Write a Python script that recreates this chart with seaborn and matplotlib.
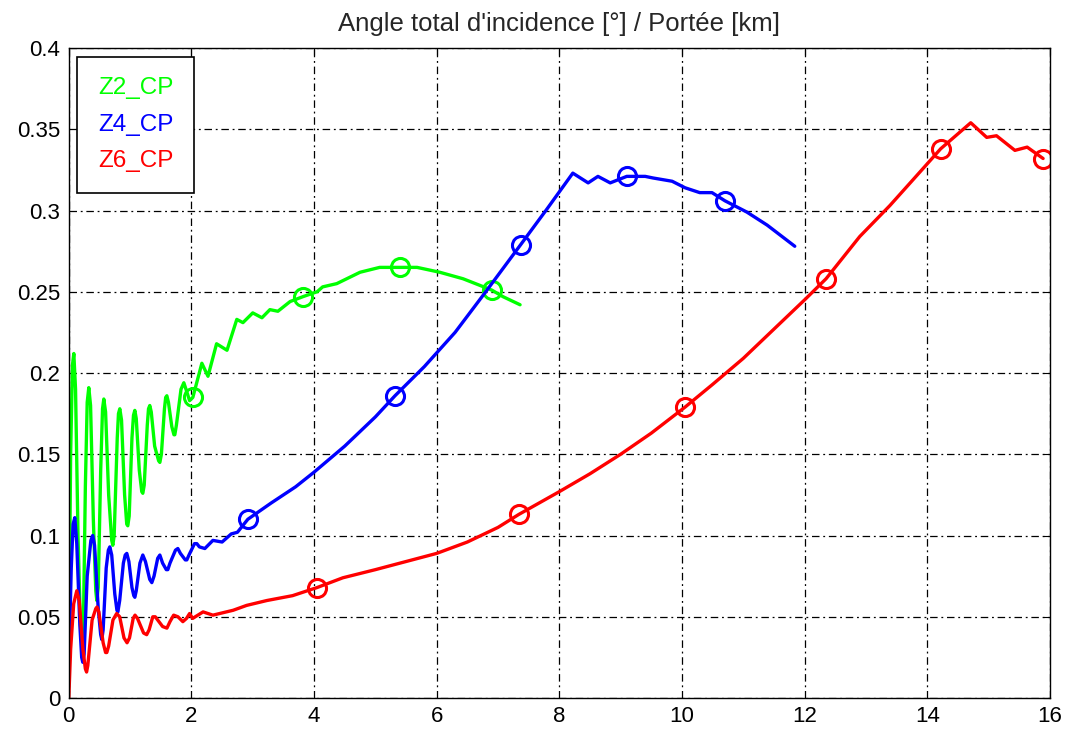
import numpy as np
import pandas as pd
import matplotlib
matplotlib.use('Agg')
import matplotlib.pyplot as plt
from matplotlib.ticker import FuncFormatter
import seaborn as sns

sns.set_style('white')
plt.rcParams['font.family'] = ['Liberation Sans', 'DejaVu Sans']

# Courbes : portée [km] / angle [°]
z2_x = [0.0, 0.03, 0.06, 0.082, 0.11, 0.15, 0.19, 0.212, 0.24, 0.27, 0.30, 0.326,
        0.355, 0.40, 0.44, 0.457, 0.48, 0.52, 0.55, 0.571, 0.60, 0.65, 0.70, 0.718,
        0.74, 0.79, 0.81, 0.832, 0.86, 0.91, 0.945, 0.962, 0.985, 1.03, 1.055, 1.077,
        1.10, 1.15, 1.19, 1.207, 1.23, 1.28, 1.30, 1.321, 1.345, 1.40, 1.465, 1.485,
        1.51, 1.56, 1.58, 1.599, 1.625, 1.68, 1.715, 1.729, 1.755, 1.83, 1.876, 1.92,
        1.97, 2.023, 2.17, 2.27, 2.41, 2.58, 2.74, 2.84, 3.00, 3.15, 3.28, 3.41, 3.61,
        3.82, 4.05, 4.14, 4.37, 4.75, 5.07, 5.40, 5.68, 6.05, 6.43, 6.70, 6.90, 7.08,
        7.36]
z2_y = [0.02, 0.15, 0.205, 0.212, 0.19, 0.10, 0.045, 0.036, 0.05, 0.13, 0.182, 0.191,
        0.18, 0.11, 0.066, 0.060, 0.068, 0.14, 0.178, 0.184, 0.176, 0.125, 0.097, 0.094,
        0.100, 0.160, 0.175, 0.178, 0.171, 0.125, 0.107, 0.106, 0.112, 0.160, 0.174, 0.177,
        0.172, 0.140, 0.127, 0.126, 0.131, 0.168, 0.178, 0.180, 0.176, 0.155, 0.146, 0.145,
        0.150, 0.178, 0.185, 0.186, 0.182, 0.167, 0.162, 0.162, 0.168, 0.190, 0.194, 0.189,
        0.183, 0.185, 0.206, 0.198, 0.218, 0.214, 0.233, 0.231, 0.237, 0.234, 0.239, 0.238,
        0.244, 0.247, 0.250, 0.253, 0.255, 0.262, 0.265, 0.265, 0.265, 0.262, 0.258, 0.254,
        0.251, 0.247, 0.242]

z4_x = [0.0, 0.04, 0.07, 0.098, 0.13, 0.18, 0.21, 0.228, 0.25, 0.30, 0.36, 0.39, 0.42,
        0.48, 0.52, 0.538, 0.56, 0.61, 0.645, 0.669, 0.70, 0.75, 0.785, 0.80, 0.83, 0.89,
        0.92, 0.946, 0.98, 1.03, 1.06, 1.077, 1.10, 1.16, 1.207, 1.25, 1.32, 1.354, 1.39,
        1.45, 1.485, 1.53, 1.59, 1.615, 1.65, 1.74, 1.778, 1.82, 1.90, 1.925, 1.96, 2.05,
        2.088, 2.13, 2.219, 2.35, 2.5, 2.65, 2.75, 2.92, 3.3, 3.7, 4.0, 4.5, 5.0, 5.32,
        5.8, 6.3, 6.8, 7.37, 7.8, 8.22, 8.47, 8.63, 8.83, 9.10, 9.40, 9.53, 9.84, 10.05,
        10.29, 10.49, 10.70, 11.06, 11.39, 11.84]
z4_y = [0.02, 0.08, 0.107, 0.111, 0.095, 0.045, 0.025, 0.022, 0.027, 0.075, 0.097, 0.100,
        0.094, 0.055, 0.039, 0.036, 0.042, 0.080, 0.091, 0.093, 0.088, 0.064, 0.054, 0.053,
        0.060, 0.083, 0.088, 0.089, 0.084, 0.068, 0.063, 0.062, 0.066, 0.083, 0.088, 0.084,
        0.073, 0.071, 0.075, 0.086, 0.088, 0.083, 0.079, 0.079, 0.083, 0.091, 0.092, 0.089,
        0.085, 0.085, 0.088, 0.095, 0.095, 0.093, 0.092, 0.097, 0.096, 0.101, 0.102, 0.110,
        0.120, 0.130, 0.139, 0.155, 0.173, 0.186, 0.204, 0.225, 0.250, 0.279, 0.301, 0.323,
        0.317, 0.321, 0.317, 0.321, 0.321, 0.320, 0.318, 0.314, 0.311, 0.311, 0.306, 0.299,
        0.291, 0.278]

z6_x = [0.0, 0.03, 0.08, 0.13, 0.17, 0.23, 0.27, 0.29, 0.31, 0.38, 0.44, 0.46, 0.49,
        0.56, 0.60, 0.62, 0.65, 0.72, 0.78, 0.83, 0.90, 0.95, 0.99, 1.05, 1.08, 1.12,
        1.22, 1.27, 1.31, 1.37, 1.41, 1.53, 1.60, 1.65, 1.71, 1.78, 1.86, 1.92, 1.97,
        2.02, 2.19, 2.35, 2.68, 2.90, 3.23, 3.65, 4.05, 4.47, 5.0, 5.5, 6.0, 6.5, 7.0,
        7.34, 8.0, 8.5, 9.0, 9.5, 10.05, 10.5, 11.0, 11.5, 12.0, 12.35, 12.9, 13.39,
        13.77, 14.22, 14.71, 14.97, 15.13, 15.43, 15.63, 15.89]
z6_y = [0.0, 0.03, 0.058, 0.066, 0.060, 0.030, 0.018, 0.016, 0.020, 0.048, 0.055, 0.056,
        0.053, 0.034, 0.028, 0.028, 0.032, 0.048, 0.052, 0.050, 0.037, 0.034, 0.037, 0.049,
        0.051, 0.049, 0.040, 0.039, 0.042, 0.050, 0.050, 0.044, 0.043, 0.047, 0.051, 0.050,
        0.047, 0.049, 0.052, 0.049, 0.053, 0.051, 0.054, 0.057, 0.060, 0.063, 0.068, 0.074,
        0.079, 0.084, 0.089, 0.096, 0.105, 0.113, 0.127, 0.138, 0.150, 0.163, 0.179, 0.193,
        0.209, 0.227, 0.245, 0.258, 0.284, 0.303, 0.319, 0.338, 0.354, 0.345, 0.346, 0.337,
        0.339, 0.332]

# Marqueurs 'o'
z2_mx = [2.02, 3.82, 5.40, 6.90]
z2_my = [0.185, 0.247, 0.265, 0.251]
z4_mx = [2.92, 5.32, 7.37, 9.10, 10.70]
z4_my = [0.110, 0.186, 0.279, 0.321, 0.306]
z6_mx = [4.05, 7.34, 10.05, 12.35, 14.22, 15.89]
z6_my = [0.068, 0.113, 0.179, 0.258, 0.338, 0.332]

names = ['Z2_CP', 'Z4_CP', 'Z6_CP']
colors = ['#00ff00', '#0000ff', '#ff0000']
curves = [(z2_x, z2_y), (z4_x, z4_y), (z6_x, z6_y)]
marks = [(z2_mx, z2_my), (z4_mx, z4_my), (z6_mx, z6_my)]

fig = plt.figure(figsize=(10.75, 7.35), dpi=100)
ax = fig.add_axes([0.064, 0.0503, 0.9126, 0.8844])

for name, col, (cx, cy), (mx, my) in zip(names, colors, curves, marks):
    df = pd.DataFrame({'x': cx, 'y': cy})
    sns.lineplot(data=df, x='x', y='y', ax=ax, color=col, linewidth=2.4,
                 sort=False, label=name, estimator=None,
                 solid_joinstyle='round', solid_capstyle='round')
    ax.plot(mx, my, 'o', markersize=13, markerfacecolor='none',
            markeredgecolor=col, markeredgewidth=2.2)

ax.set_xlim(0, 16)
ax.set_ylim(0, 0.4)
ax.set_xticks(np.arange(0, 17, 2))
ax.set_yticks(np.arange(0, 0.401, 0.05))
ax.yaxis.set_major_formatter(FuncFormatter(lambda v, p: '%g' % round(v, 2)))
ax.tick_params(direction='in', length=5, labelsize=16, top=True, right=True,
               colors='black', pad=6)
ax.grid(True, color='black', linestyle=(0, (6, 3, 1.5, 3)), linewidth=0.9)
for s in ax.spines.values():
    s.set_color('black')
    s.set_linewidth(1.0)
ax.set_xlabel('')
ax.set_ylabel('')
ax.set_title("Angle total d'incidence [°] / Portée [km]", fontsize=18.5, pad=12)

leg = ax.legend(loc='upper left', handlelength=0, handletextpad=0, fontsize=17.5,
                fancybox=False, framealpha=1, edgecolor='black',
                borderpad=0.85, labelspacing=0.6, borderaxespad=0.35)
leg.get_frame().set_linewidth(1.2)
for txt, col in zip(leg.get_texts(), colors):
    txt.set_color(col)
for h in leg.legend_handles:
    h.set_visible(False)

fig.savefig('out.png', dpi=100)
